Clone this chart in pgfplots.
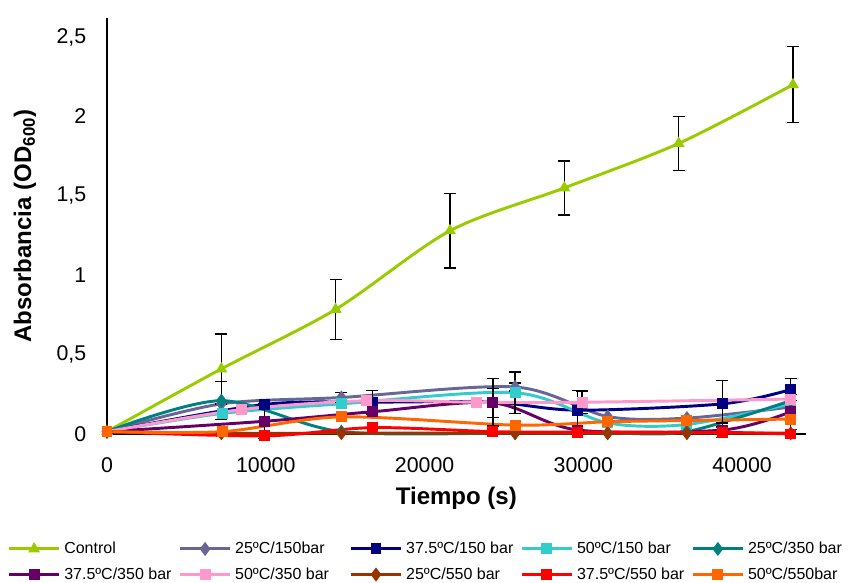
\documentclass[border=0pt]{standalone}
\usepackage{pgfplots}
\pgfplotsset{compat=1.18}
\usepackage{fontspec}
\setmainfont{Liberation Sans}
\definecolor{cctrl}{HTML}{99CC00}
\definecolor{cslate}{HTML}{666699}
\definecolor{cnavy}{HTML}{000080}
\definecolor{ccyan}{HTML}{33CCCC}
\definecolor{cteal}{HTML}{008080}
\definecolor{cpurple}{HTML}{660066}
\definecolor{cpink}{HTML}{FF99CC}
\definecolor{cbrown}{HTML}{993300}
\definecolor{cred}{HTML}{FF0000}
\definecolor{corange}{HTML}{FF6600}
\newcommand{\lb}[1]{\makebox[86pt][l]{#1}}
\begin{document}
\begin{tikzpicture}
\useasboundingbox (-80.25pt,-111pt) rectangle (555.75pt,325.5pt);
\begin{axis}[
  at={(0,0)}, anchor=south west,
  scale only axis, width=524pt, height=312pt,
  xmin=0, xmax=44000, ymin=0, ymax=2.62,
  axis x line=bottom, axis y line=left,
  x axis line style={-, line width=0.8pt},
  y axis line style={-, line width=1.5pt},
  major tick length=0pt,
  xtick={0,10000,20000,30000,40000},
  ytick={0,0.5,1,1.5,2,2.5},
  scaled ticks=false,
  /pgf/number format/.cd, use comma, 1000 sep={}, assume math mode=true, /pgfplots/.cd,
  tick label style={font=\fontsize{16}{19}\selectfont, black},
  yticklabel style={xshift=-12pt},
  xticklabel style={yshift=-14pt},
  xlabel={\textbf{Tiempo (s)}},
  ylabel={\textbf{Absorbancia (OD\textsubscript{600})}},
  every axis x label/.style={at={(axis description cs:0.5,-0.154)}, anchor=center, font=\fontsize{18}{21}\selectfont},
  every axis y label/.style={at={(axis description cs:-0.1174,0.5)}, rotate=90, anchor=center, font=\fontsize{18}{21}\selectfont},
  clip=false,
  legend columns=5,
  legend cell align=left,
  legend style={at={(axis description cs:-0.1417,-0.26)}, anchor=north west,
    draw=none, fill=none, font=\fontsize{12}{14}\selectfont,
    inner sep=0pt, outer sep=0pt, nodes={inner sep=0pt}, row sep=9pt,
    /tikz/every odd column/.append style={column sep=3pt}},
  legend image code/.code={\draw[mark repeat=2,mark phase=2,#1] plot coordinates {(0pt,0pt) (18.5pt,0pt) (37pt,0pt)};},
  every axis plot/.append style={line width=2.2pt, smooth, mark options={solid}},
]
% Control
\addplot[cctrl, mark=triangle*, mark size=3pt] coordinates {
 (0,0.015) (7200,0.41) (14400,0.785) (21600,1.28) (28800,1.55) (36000,1.83) (43200,2.20)};
\addlegendentry{\lb{Control}}
% 25C/150bar
\addplot[cslate, mark=diamond*, mark size=3.5pt] coordinates {
 (0,0.015) (7200,0.19) (14760,0.23) (25700,0.296) (31530,0.11) (36520,0.10) (43060,0.17)};
\addlegendentry{\lb{25ºC/150bar}}
% 37.5C/150 bar
\addplot[cnavy, mark=square*, mark size=3pt] coordinates {
 (0,0.015) (9900,0.186) (16700,0.20) (24300,0.20) (29640,0.15) (38760,0.19) (43060,0.28)};
\addlegendentry{\lb{37.5ºC/150 bar}}
% 50C/150 bar
\addplot[ccyan, mark=square*, mark size=3pt] coordinates {
 (0,0.015) (7280,0.13) (14760,0.19) (25700,0.26) (31530,0.07) (36520,0.06) (43060,0.19)};
\addlegendentry{\lb{50ºC/150 bar}}
% 25C/350 bar
\addplot[cteal, mark=diamond*, mark size=3.5pt] coordinates {
 (0,0.015) (7200,0.21) (14760,0.015) (25700,0.006) (31530,0.006) (36520,0.015) (43060,0.21)};
\addlegendentry{\lb{25ºC/350 bar}}
% 37.5C/350 bar
\addplot[cpurple, mark=square*, mark size=3pt] coordinates {
 (0,0.015) (9900,0.08) (16700,0.14) (24300,0.196) (29640,0.025) (38760,0.025) (43060,0.14)};
\addlegendentry{\lb{37.5ºC/350 bar}}
% 50C/350 bar
\addplot[cpink, mark=square*, mark size=3pt] coordinates {
 (0,0.015) (8470,0.154) (16370,0.21) (23250,0.20) (29920,0.20) (43060,0.22)};
\addlegendentry{\lb{50ºC/350 bar}}
% 25C/550 bar
\addplot[cbrown, mark=diamond*, mark size=3.5pt] coordinates {
 (0,0.015) (7200,0.005) (14760,0.005) (25700,0.005) (31530,0.005) (36520,0.005) (43060,0.005)};
\addlegendentry{\lb{25ºC/550 bar}}
% 37.5C/550 bar
\addplot[cred, mark=square*, mark size=3pt] coordinates {
 (0,0.015) (9900,-0.012) (16700,0.04) (24300,0.015) (29640,0.012) (38760,0.01) (43060,0.0)};
\addlegendentry{\lb{37.5ºC/550 bar}}
% 50C/550bar
\addplot[corange, mark=square*, mark size=3pt] coordinates {
 (0,0.015) (7280,0.015) (14760,0.108) (25700,0.056) (31530,0.077) (36520,0.085) (43060,0.094)};
\addlegendentry{50ºC/550bar}
% error bars
\addplot[draw=none, mark=none, forget plot,
  error bars/.cd, y dir=both, y explicit,
  error bar style={draw=black, line width=1pt, solid},
  error mark options={draw=black, rotate=90, mark size=4.5pt, line width=1pt}]
 coordinates {
 (7200,0.41) +- (0,0.22)
 (14400,0.785) +- (0,0.19)
 (21600,1.28) +- (0,0.235)
 (28800,1.55) +- (0,0.17)
 (36000,1.83) +- (0,0.17)
 (43200,2.20) +- (0,0.24)
 (7200,0.21) +- (0,0.12)
 (14760,0.23) +- (0,0.03)
 (25700,0.296) +- (0,0.025)
 (25700,0.26) +- (0,0.13)
 (16700,0.20) +- (0,0.075)
 (24300,0.20) +- (0,0.15)
 (29640,0.15) +- (0,0.125)
 (38760,0.19) +- (0,0.145)
 (43060,0.28) +- (0,0.07)
 (9900,0.08) +- (0,0.11)
 (24300,0.196) +- (0,0.09)
 (38760,0.025) +- (0,0.045)
 (29920,0.20) +- (0,0.07)
 (43060,0.14) +- (0,0.11)
 };
\end{axis}
\end{tikzpicture}
\end{document}
